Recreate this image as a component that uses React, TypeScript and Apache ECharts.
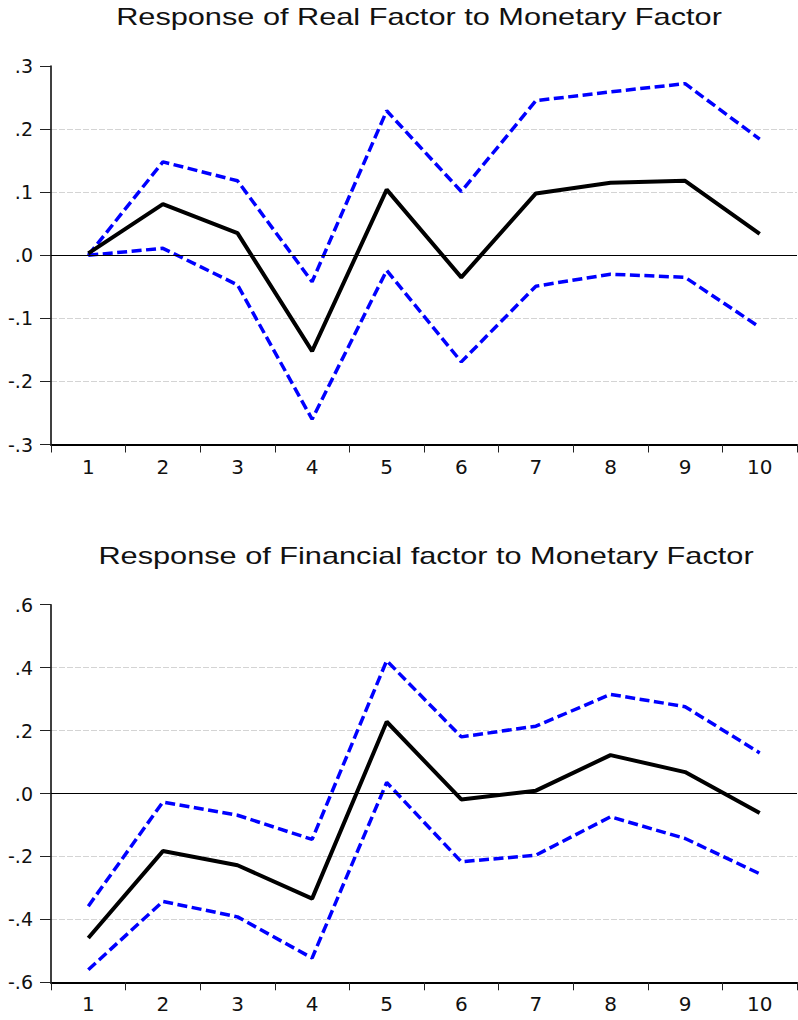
import React, { useEffect, useRef } from "react";
import * as echarts from "echarts";

// Impulse-response horizons
const periods = ["1", "2", "3", "4", "5", "6", "7", "8", "9", "10"];

// Response of Real Factor to Monetary Factor
const realResponse = [0.003, 0.081, 0.035, -0.152, 0.104, -0.035, 0.098, 0.115, 0.118, 0.034];
const realUpper = [0.0, 0.148, 0.118, -0.042, 0.229, 0.101, 0.245, 0.259, 0.272, 0.184];
const realLower = [0.0, 0.011, -0.047, -0.26, -0.024, -0.169, -0.049, -0.03, -0.035, -0.114];

// Response of Financial factor to Monetary Factor
const finResponse = [-0.459, -0.183, -0.228, -0.334, 0.228, -0.019, 0.009, 0.122, 0.068, -0.062];
const finUpper = [-0.358, -0.027, -0.069, -0.146, 0.422, 0.18, 0.214, 0.315, 0.276, 0.129];
const finLower = [-0.56, -0.343, -0.392, -0.523, 0.035, -0.217, -0.196, -0.074, -0.143, -0.255];

const titles = [
  "Response of Real Factor to Monetary Factor",
  "Response of Financial factor to Monetary Factor",
];

const AXIS_FONT = "DejaVu Sans";
const TITLE_FONT = "Liberation Sans, Arial, sans-serif";

// ".3", "-.1", ".0" style labels
const tickLabel = (v: number) => {
  const s = Math.abs(v) < 1e-9 ? "0.0" : v.toFixed(1);
  return s.replace(/^(-?)0\./, "$1.");
};

export default function App() {
  const ref = useRef<HTMLDivElement>(null);

  useEffect(() => {
    if (!ref.current) return;
    const chart = echarts.init(ref.current, undefined, { renderer: "svg" });

    const grids = [
      { left: 51, top: 66, right: 1, height: 378.5 },
      { left: 51, top: 604.7, right: 1, height: 377.6 },
    ];

    const xAxis = grids.map((_, i) => ({
      type: "category" as const,
      gridIndex: i,
      data: periods,
      boundaryGap: true,
      axisLine: { show: true, onZero: false, lineStyle: { color: "#000", width: 2 } },
      axisTick: { show: true, interval: 0, length: 8, lineStyle: { color: "#222", width: 1 } },
      axisLabel: { margin: 12, fontSize: 20, fontFamily: AXIS_FONT, color: "#111", interval: 0 },
      splitLine: { show: false },
    }));

    const ranges = [
      { min: -0.3, max: 0.3, interval: 0.1 },
      { min: -0.6, max: 0.6, interval: 0.2 },
    ];

    const yAxis = ranges.map((r, i) => ({
      type: "value" as const,
      gridIndex: i,
      min: r.min,
      max: r.max,
      interval: r.interval,
      axisLine: { show: true, lineStyle: { color: "#000", width: 1.5 } },
      axisTick: { show: true, length: 11, lineStyle: { color: "#222", width: 1 } },
      axisLabel: {
        margin: 18,
        fontSize: 19,
        fontFamily: AXIS_FONT,
        color: "#111",
        formatter: tickLabel,
      },
      splitLine: {
        show: true,
        showMaxLine: false,
        showMinLine: false,
        lineStyle: { color: "#d4d4d4", width: 1, type: [6, 2] },
      },
    }));

    const zeroLine = {
      silent: true,
      symbol: ["none", "none"],
      label: { show: false },
      lineStyle: { color: "#000", width: 1, type: "solid" },
      data: [{ yAxis: 0 }],
    };

    const band = (data: number[], idx: number) => ({
      type: "line" as const,
      xAxisIndex: idx,
      yAxisIndex: idx,
      data,
      symbol: "none",
      lineStyle: { color: "#0000ff", width: 3.5, type: [10, 4.5] },
      z: 3,
    });

    const main = (data: number[], idx: number) => ({
      type: "line" as const,
      xAxisIndex: idx,
      yAxisIndex: idx,
      data,
      symbol: "none",
      lineStyle: { color: "#000", width: 4, type: "solid" },
      markLine: zeroLine,
      z: 4,
    });

    const titleCenters = [
      { x: 419, y: 17 },
      { x: 426, y: 556 },
    ];

    chart.setOption({
      animation: false,
      backgroundColor: "#fff",
      grid: grids,
      xAxis,
      yAxis,
      graphic: titles.map((t, i) => ({
        type: "text",
        x: titleCenters[i].x,
        y: titleCenters[i].y,
        scaleX: 1.28,
        style: {
          text: t,
          fontSize: 24,
          fontFamily: TITLE_FONT,
          fill: "#111",
          textAlign: "center",
          textVerticalAlign: "middle",
          verticalAlign: "middle",
        },
      })),
      series: [
        main(realResponse, 0),
        band(realUpper, 0),
        band(realLower, 0),
        main(finResponse, 1),
        band(finUpper, 1),
        band(finLower, 1),
      ],
    });

    return () => chart.dispose();
  }, []);

  return (
    <div
      ref={ref}
      style={{ position: "absolute", left: 0, top: 0, width: 798, height: 1020 }}
    />
  );
}
